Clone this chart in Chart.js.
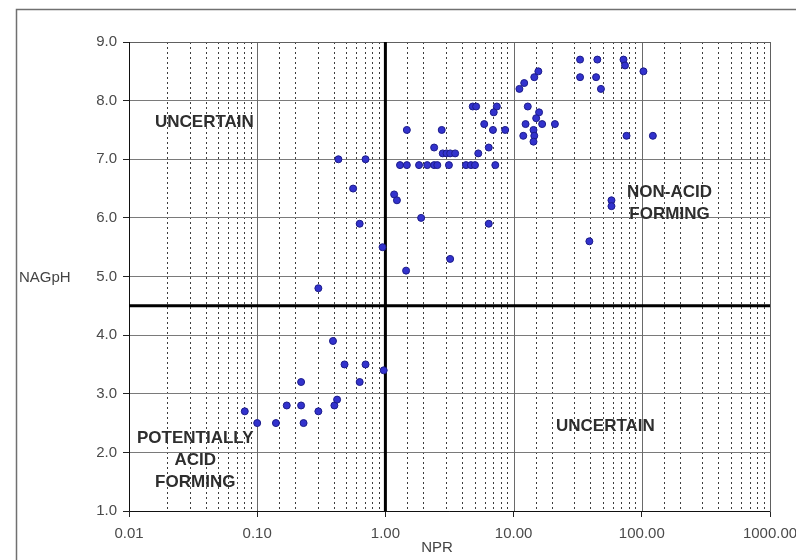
<!DOCTYPE html>
<html>
<head>
<meta charset="utf-8">
<script src="https://cdn.jsdelivr.net/npm/chart.js@4/dist/chart.umd.min.js"></script>
<style>
  html, body { margin: 0; padding: 0; background: #fff; }
  #wrap { width: 796px; height: 560px; position: relative; }
</style>
</head>
<body>
<div id="wrap"><canvas id="nag-chart"></canvas></div>
<script>
// NPR (x, log) et NAGpH (y)
const npr = [
    0.08, 0.10, 0.14, 0.17, 0.22, 0.22, 0.23, 0.30, 0.39, 0.40, 0.42, 0.48, 0.70, 0.63, 0.97, 0.30,
    0.43, 0.70, 0.56, 0.63, 0.95, 1.17, 1.23, 1.45, 1.9, 3.2, 6.4,
    1.30, 1.47, 1.83, 2.12, 2.40, 2.54, 3.13, 4.25, 4.65, 5.0, 7.2,
    2.8, 3.0, 3.2, 3.5, 5.3, 2.4, 6.4,
    1.47, 2.75, 6.9, 8.6, 5.9, 4.8, 5.1, 7.4, 7.0,
    11.1, 12.1, 14.5, 15.6, 33, 45, 72, 74, 103, 33, 44, 48,
    12.9, 15.8, 15.0, 12.4, 16.7, 21, 14.3, 11.9, 14.5, 14.3, 76, 122,
    58, 58, 39
];
const nagph = [
    2.7, 2.5, 2.5, 2.8, 3.2, 2.8, 2.5, 2.7, 3.9, 2.8, 2.9, 3.5, 3.5, 3.2, 3.4, 4.8,
    7.0, 7.0, 6.5, 5.9, 5.5, 6.4, 6.3, 5.1, 6.0, 5.3, 5.9,
    6.9, 6.9, 6.9, 6.9, 6.9, 6.9, 6.9, 6.9, 6.9, 6.9, 6.9,
    7.1, 7.1, 7.1, 7.1, 7.1, 7.2, 7.2,
    7.5, 7.5, 7.5, 7.5, 7.6, 7.9, 7.9, 7.9, 7.8,
    8.2, 8.3, 8.4, 8.5, 8.7, 8.7, 8.7, 8.6, 8.5, 8.4, 8.4, 8.2,
    7.9, 7.8, 7.7, 7.6, 7.6, 7.6, 7.5, 7.4, 7.4, 7.3, 7.4, 7.4,
    6.3, 6.2, 5.6
];

// Limites des zones
const nprLimit = 1;
const phLimit = 4.5;

// Textes des zones (position en pixels dans la zone du graphique)
const zoneTexts = [
    { lines: ['UNCERTAIN'], dx: 26, dy: 80 },
    { lines: ['NON-ACID', 'FORMING'], dx: 498, dy: 150 },
    { lines: ['UNCERTAIN'], dx: 427, dy: 384 },
    { lines: ['POTENTIALLY', 'ACID', 'FORMING'], dx: 8, dy: 396 }
];

const FONT = "'Liberation Sans', Arial, sans-serif";

function isDecade(v) {
    const l = Math.log10(v);
    return Math.abs(l - Math.round(l)) < 1e-9;
}

const points = npr.map((x, i) => ({ x: x, y: nagph[i] }));

// Plugin: cadre, lignes de seuil, textes
const decorPlugin = {
    id: 'decor',
    beforeDraw(chart) {
        const ctx = chart.ctx;
        ctx.save();
        ctx.strokeStyle = '#707070';
        ctx.lineWidth = 1.5;
        ctx.strokeRect(16.5, 9.5, 790, 570);
        ctx.restore();
    },
    beforeDatasetsDraw(chart) {
        const ctx = chart.ctx;
        const a = chart.chartArea;
        const xs = chart.scales.x, ys = chart.scales.y;
        ctx.save();
        // lignes des décades (pleines)
        ctx.strokeStyle = '#6a6a6a';
        ctx.lineWidth = 1;
        xs.ticks.filter(t => isDecade(t.value)).forEach(t => {
            const p = Math.round(xs.getPixelForValue(t.value)) + 0.5;
            ctx.beginPath();
            ctx.moveTo(p, a.top);
            ctx.lineTo(p, a.bottom);
            ctx.stroke();
        });
        // cadre
        ctx.strokeStyle = '#606060';
        ctx.strokeRect(a.left + 0.5, a.top + 0.5, a.right - a.left, a.bottom - a.top);
        ctx.strokeStyle = '#111';
        ctx.beginPath();
        ctx.moveTo(a.left + 0.5, a.top);
        ctx.lineTo(a.left + 0.5, a.bottom + 0.5);
        ctx.lineTo(a.right, a.bottom + 0.5);
        ctx.stroke();
        // seuils
        ctx.strokeStyle = '#000';
        ctx.lineWidth = 3;
        const yp = ys.getPixelForValue(phLimit);
        ctx.beginPath();
        ctx.moveTo(a.left, yp);
        ctx.lineTo(a.right, yp);
        ctx.stroke();
        const xp = xs.getPixelForValue(nprLimit);
        ctx.beginPath();
        ctx.moveTo(xp, a.top);
        ctx.lineTo(xp, a.bottom);
        ctx.stroke();
        ctx.restore();
    },
    afterDraw(chart) {
        const ctx = chart.ctx;
        const a = chart.chartArea;
        ctx.save();
        ctx.fillStyle = '#2e2e2e';
        ctx.font = 'bold 17px ' + FONT;
        ctx.textAlign = 'center';
        ctx.textBaseline = 'middle';
        zoneTexts.forEach(t => {
            const w = Math.max(...t.lines.map(s => ctx.measureText(s).width));
            t.lines.forEach((s, i) => {
                ctx.fillText(s, a.left + t.dx + w / 2, a.top + t.dy + i * 22);
            });
        });
        // Titres des axes
        ctx.fillStyle = '#444';
        ctx.font = '15px ' + FONT;
        ctx.textAlign = 'left';
        ctx.fillText('NAGpH', 19, (a.top + a.bottom) / 2 + 1);
        ctx.textAlign = 'center';
        ctx.fillText('NPR', a.left + 308, a.bottom + 37);
        ctx.restore();
    }
};

const chart = new Chart(document.getElementById('nag-chart').getContext('2d'), {
    type: 'scatter',
    data: {
        datasets: [{
            data: points,
            backgroundColor: 'rgba(50,50,205,1)',
            borderColor: '#1c1c8a',
            borderWidth: 1,
            pointRadius: 3.5,
            pointHoverRadius: 3.5
        }]
    },
    options: {
        responsive: true,
        maintainAspectRatio: false,
        animation: false,
        layout: { padding: { top: 42, right: 26, left: 0, bottom: 0 } },
        plugins: {
            legend: { display: false },
            tooltip: { enabled: false }
        },
        scales: {
            x: {
                type: 'logarithmic',
                min: 0.01,
                max: 1000,
                border: { display: false, dash: [2, 3] },
                grid: {
                    color: ctx => (ctx.tick && isDecade(ctx.tick.value)) ? 'rgba(0,0,0,0)' : '#3c3c3c',
                    lineWidth: 1,
                    tickColor: ctx => (ctx.tick && isDecade(ctx.tick.value)) ? '#222' : 'rgba(0,0,0,0)',
                    tickBorderDash: [],
                    tickLength: 6
                },
                ticks: {
                    autoSkip: false,
                    maxRotation: 0,
                    padding: 8,
                    color: '#4a4a4a',
                    font: { family: FONT, size: 15 },
                    callback: v => isDecade(v) ? v.toFixed(2) : ''
                },
                afterFit: s => { s.height = 49; s.paddingLeft = 0; s.paddingRight = 0; }
            },
            y: {
                min: 1,
                max: 9,
                border: { color: '#222', width: 1 },
                grid: {
                    color: '#7a7a7a',
                    lineWidth: 1,
                    tickColor: '#222',
                    tickLength: 6
                },
                ticks: {
                    stepSize: 1,
                    padding: 6,
                    color: '#4a4a4a',
                    font: { family: FONT, size: 15 },
                    callback: v => v.toFixed(1)
                },
                afterFit: s => { s.width = 129; s.paddingTop = 0; s.paddingBottom = 0; }
            }
        }
    },
    plugins: [decorPlugin]
});
</script>
</body>
</html>
